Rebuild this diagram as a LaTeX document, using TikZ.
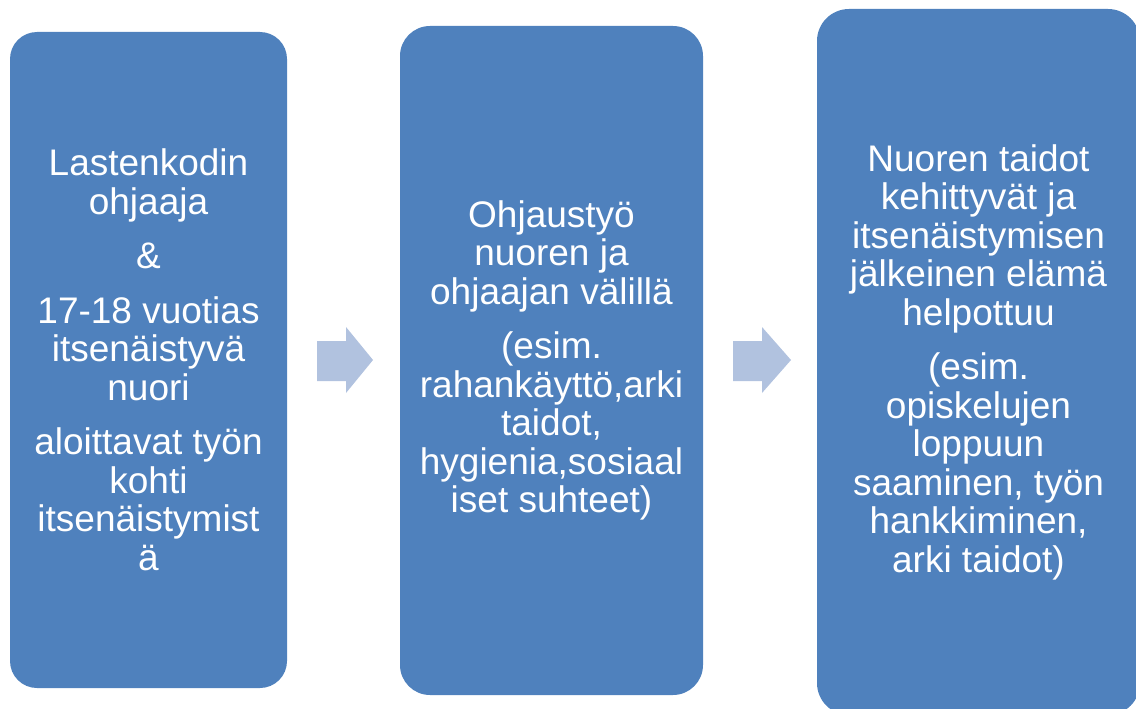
\documentclass[tikz,border=0pt]{standalone}
\usepackage{fontspec}
\setmainfont{Liberation Sans}
\definecolor{boxblue}{HTML}{4F81BD}
\definecolor{arrowblue}{HTML}{B1C2DF}
\begin{document}
\begin{tikzpicture}[x=1pt,y=-1pt,
  box/.style={fill=boxblue, draw=none, inner sep=0pt, align=center, text=white,
    font={\fontsize{37}{38.5}\selectfont}},
  flowarrow/.style={fill=arrowblue, draw=none}]
\useasboundingbox (0,0) rectangle (1136,709);
\node[box, minimum width=277pt, minimum height=656pt, rounded corners=27pt] (b1) at (148.5,360)
 {Lastenkodin\\ohjaaja\\[16pt]\&\\[16pt]17-18 vuotias\\itsenäistyvä\\nuori\\[16pt]aloittavat työn\\kohti\\itsenäistymist\\ä};
\node[box, minimum width=303pt, minimum height=669pt, rounded corners=30pt] (b2) at (551.5,360.5)
 {Ohjaustyö\\nuoren ja\\ohjaajan välillä\\[16pt](esim.\\rahankäyttö,arki\\taidot,\\hygienia,sosiaal\\iset suhteet)};
\node[box, minimum width=323pt, minimum height=706pt, rounded corners=32pt] (b3) at (978.5,362)
 {Nuoren taidot\\kehittyvät ja\\itsenäistymisen\\jälkeinen elämä\\helpottuu\\[16pt](esim.\\opiskelujen\\loppuun\\saaminen, työn\\hankkiminen,\\arki taidot)};
\fill[flowarrow] (317,341) -- (346,341) -- (346,327) -- (373,360) -- (346,393) -- (346,381) -- (317,381) -- cycle;
\fill[flowarrow] (733,341) -- (762,341) -- (762,327) -- (791,360) -- (762,393) -- (762,381) -- (733,381) -- cycle;
\end{tikzpicture}
\end{document}
